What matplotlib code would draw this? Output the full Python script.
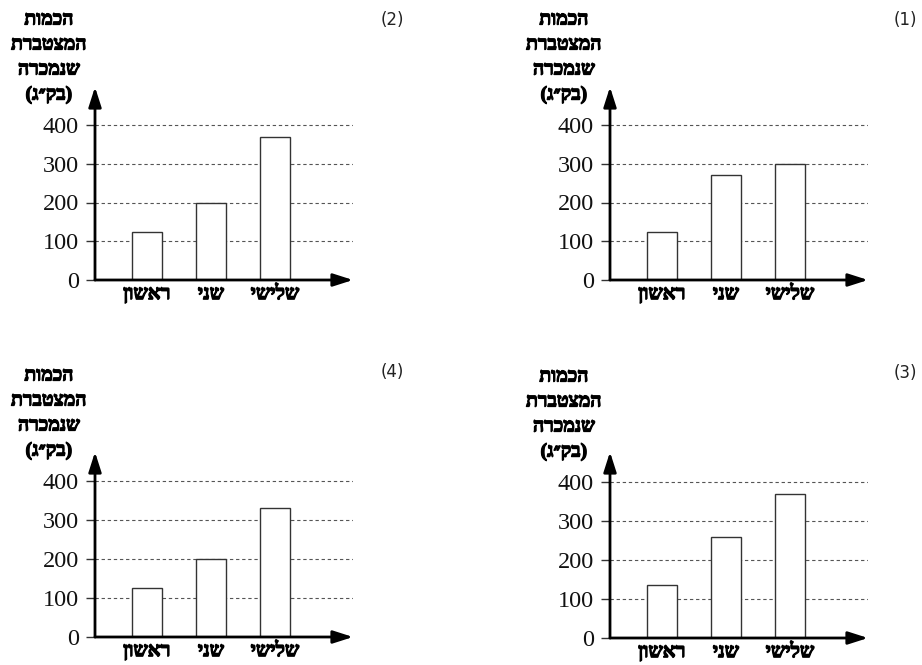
import matplotlib
matplotlib.use("Agg")
import matplotlib.pyplot as plt
import matplotlib.patheffects as pe

# data per panel (kg sold, cumulative)
days = ["ראשון", "שני", "שלישי"]
panel_names = ["(1)", "(2)", "(3)", "(4)"]
values_1 = [125, 270, 300]
values_2 = [125, 200, 370]
values_3 = [135, 260, 370]
values_4 = [125, 200, 330]
yticks = [0, 100, 200, 300, 400]
ylabel_lines = ["הכמות", "המצטברת", "שנמכרה", "(בק״ג)"]

HEB = ["Liberation Serif", "DejaVu Sans"]
# the hebrew glyphs come out regular weight, so thicken them a little
bold_fx = [pe.withStroke(linewidth=0.9, foreground="black")]


def vis(s):
    # matplotlib has no bidi support, so flip to visual order
    swap = {"(": ")", ")": "("}
    return "".join(swap.get(c, c) for c in reversed(s))


W, H = 922, 665
fig = plt.figure(figsize=(W / 100, H / 100), dpi=100)

# (values, label, axis x px, zero y px, arrow top px, 400 y px, label x px, label y px)
layout = [
    (values_1, panel_names[0], 610, 280, 87, 125, 905, 20),
    (values_2, panel_names[1], 95, 280, 87, 125, 392, 20),
    (values_3, panel_names[2], 610, 638, 452, 482, 905, 373),
    (values_4, panel_names[3], 95, 637, 452, 481, 392, 372),
]

x = [0, 1, 2]
for vals, name, ax_x, y0, ytop, y400, lx, ly in layout:
    width_px = 258
    ax = fig.add_axes([ax_x / W, (H - y0) / H, width_px / W, (y0 - ytop) / H])
    ax.set_xlim(-0.81, 3.22)
    ax.set_ylim(0, 400 * (y0 - ytop) / (y0 - y400))
    for s in ax.spines.values():
        s.set_visible(False)

    for g in yticks[1:]:
        ax.axhline(g, color="#555555", lw=0.8, ls=(0, (3, 2.5)), zorder=1)

    ax.bar(x, vals, width=0.47, facecolor="white", edgecolor="#333333",
           lw=1.0, zorder=2)

    arrow = dict(arrowstyle="-|>,head_length=1.0,head_width=0.32",
                 color="black", lw=2, shrinkA=0, shrinkB=0, mutation_scale=12)
    ax.annotate("", xy=(1, 0), xytext=(0, 0), xycoords="axes fraction",
                arrowprops=arrow, annotation_clip=False, zorder=3)
    ax.annotate("", xy=(0, 1), xytext=(0, 0), xycoords="axes fraction",
                arrowprops=arrow, annotation_clip=False, zorder=3)

    ax.set_yticks(yticks)
    ax.set_yticklabels([str(t) for t in yticks], family="Liberation Serif",
                       fontsize=17.5, color="#111111")
    ax.tick_params(axis="y", direction="out", length=6.5, width=1,
                   color="#333333", pad=5)
    ax.set_xticks(x)
    ax.set_xticklabels([vis(d) for d in days], family=HEB,
                       fontweight="bold", fontsize=14.5)
    for t in ax.get_xticklabels():
        t.set_path_effects(bold_fx)
    ax.tick_params(axis="x", length=0, pad=3)

    for i, line in enumerate(reversed(ylabel_lines)):
        ax.annotate(vis(line), xy=(0, 400), xycoords=("axes fraction", "data"),
                    xytext=(-46, 30 + 25 * i), textcoords="offset pixels",
                    ha="center", va="center", family=HEB,
                    fontweight="bold", fontsize=14, path_effects=bold_fx)

    fig.text(lx / W, 1 - ly / H, name, ha="center", va="center",
             family="DejaVu Sans", fontsize=12, color="#222222")

fig.savefig("out.png", dpi=100, facecolor="white")
